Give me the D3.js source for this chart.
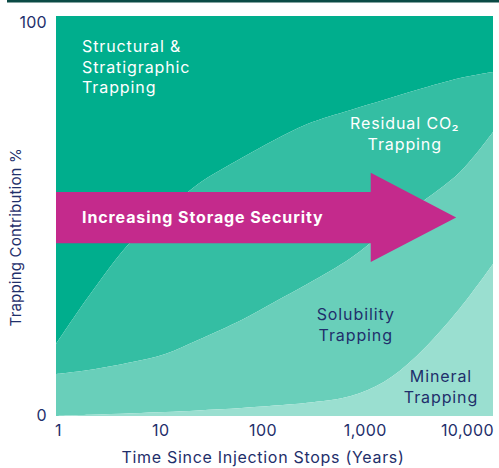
<!DOCTYPE html>
<html>
<head>
<meta charset="utf-8">
<script src="https://cdn.jsdelivr.net/npm/d3@7"></script>
<style>
  body { margin: 0; background: #fff; }
  text { font-family: Inter, "Open Sans", sans-serif; }
</style>
</head>
<body>
<svg></svg>
<script>
// years after injection stops and share of each trapping mechanism (%)
const years      = [1, 2, 5, 10, 20, 50, 100, 200, 500, 1000, 2000, 5000, 10000];
const mineral    = [0, 0.3, 0.7, 1, 1.4, 2, 2.6, 3.3, 5, 8.5, 15, 27, 38];
const solubility = [10.5, 11.2, 12.8, 14.5, 17.6, 22, 25.9, 29.7, 34.5, 37.5, 37.5, 34, 33];
const residual   = [7.5, 18.5, 30.5, 35.5, 39, 40.5, 40.5, 40, 37, 33, 29, 23.5, 15];
const structural = [82, 70, 56, 49, 42, 35.5, 31, 27, 23.5, 21, 18.5, 15.5, 14];

const mechanisms = ["Mineral", "Solubility", "Residual", "Structural"];
const xTicks = [1, 10, 100, 1000, 10000];
const yTicks = [0, 100];

let w = 499, h = 468;
const margin = {top: 16, right: 6, bottom: 52, left: 56};
const navy = "#1f2f6b";
const font = "Inter, 'Open Sans', sans-serif";

var svg = d3.select("svg").attr("width", w).attr("height", h);

// thin dark band along the top
svg.append("rect").attr("x", 7).attr("y", 0).attr("width", w - 7).attr("height", 2.5)
    .attr("fill", "#0b4a45");

var x = d3.scaleLog().domain([1, 10000]).range([margin.left, w - margin.right]);
var y = d3.scaleLinear().domain([0, 100]).range([h - margin.bottom, margin.top]);

var color = d3.scaleOrdinal().domain(mechanisms)
    .range(["#9adfd0", "#69cfba", "#34bea3", "#00ae8d"]);

var rows = years.map((yr, i) => ({
    year: yr,
    Mineral: mineral[i],
    Solubility: solubility[i],
    Residual: residual[i],
    Structural: structural[i]
}));

var series = d3.stack().keys(mechanisms)(rows);

var area = d3.area()
    .x(d => x(d.data.year))
    .y0(d => y(d[0]))
    .y1(d => y(d[1]))
    .curve(d3.curveCatmullRom.alpha(0.5));

// layers, top one first so the rest paint over it
svg.append("g")
    .selectAll("path")
    .data(series.slice().reverse())
    .enter()
    .append("path")
    .attr("d", area)
    .attr("fill", d => color(d.key));

// arrow "Increasing Storage Security" (in data space)
const arrow = {x0: 1, xBase: 760, xTip: 4600, bodyTop: 56, bodyBot: 43.2, headTop: 60.8, headBot: 38.5};
var arrowPts = [
    [x(arrow.x0), y(arrow.bodyTop)],
    [x(arrow.xBase), y(arrow.bodyTop)],
    [x(arrow.xBase), y(arrow.headTop)],
    [x(arrow.xTip), y((arrow.bodyTop + arrow.bodyBot) / 2)],
    [x(arrow.xBase), y(arrow.headBot)],
    [x(arrow.xBase), y(arrow.bodyBot)],
    [x(arrow.x0), y(arrow.bodyBot)]
];
svg.append("path")
    .attr("d", d3.line()(arrowPts) + "Z")
    .attr("fill", "#c42a8c");

svg.append("text")
    .attr("x", x(1) + 26)
    .attr("y", y((arrow.bodyTop + arrow.bodyBot) / 2))
    .attr("dy", "0.35em")
    .attr("fill", "#fff")
    .attr("font-size", 16)
    .attr("letter-spacing", 0.9)
    .attr("font-weight", "bold")
    .text("Increasing Storage Security");

// region labels
const labels = [
    {lines: ["Structural &", "Stratigraphic", "Trapping"], xv: 1, px: 26, yv: 92.3, anchor: "start", fill: "#fff", lh: 20.2},
    {lines: ["Residual CO\u2082", "Trapping"], xv: 1000, px: 21, yv: 73.2, anchor: "middle", fill: "#fff", lh: 21},
    {lines: ["Solubility", "Trapping"], xv: 1000, px: -28, yv: 25.5, anchor: "middle", fill: navy, lh: 21},
    {lines: ["Mineral", "Trapping"], xv: 10000, px: -52, yv: 9.8, anchor: "middle", fill: navy, lh: 20.2}
];

labels.forEach(l => {
    var t = svg.append("text")
        .attr("text-anchor", l.anchor)
        .attr("fill", l.fill)
        .attr("font-size", 16)
        .attr("letter-spacing", 0.9);
    l.lines.forEach((s, i) => {
        t.append("tspan")
            .attr("x", x(l.xv) + l.px)
            .attr("y", y(l.yv) + i * l.lh)
            .attr("dy", "0.35em")
            .text(s);
    });
});

// axes
var tickX = d3.scaleLog().domain([1, 10000]).range([x(1) + 2, x(10000) - 26]);
var xAxis = svg.append("g")
    .attr("transform", `translate(0,${h - margin.bottom + 14})`)
    .call(d3.axisBottom(tickX).tickValues(xTicks).tickFormat(d3.format(",")).tickSize(0).tickPadding(0));
xAxis.select(".domain").remove();
xAxis.selectAll("text")
    .attr("font-size", 16)
    .attr("letter-spacing", 0.4)
    .attr("fill", navy)
    .attr("font-family", font)
    .attr("dy", "0.35em");

var yAxis = svg.append("g")
    .attr("transform", `translate(${margin.left - 9},0)`)
    .call(d3.axisLeft(y).tickValues(yTicks).tickSize(0).tickPadding(0));
yAxis.select(".domain").remove();
yAxis.selectAll("text")
    .attr("font-size", 16)
    .attr("letter-spacing", 0.3)
    .attr("fill", navy)
    .attr("font-family", font)
    .attr("dy", d => d === 100 ? "0.7em" : "0.3em");

svg.append("text")
    .attr("x", 263)
    .attr("y", h - 5)
    .attr("text-anchor", "middle")
    .attr("fill", navy)
    .attr("font-size", 16)
    .attr("letter-spacing", 0.7)
    .text("Time Since Injection Stops (Years)");

svg.append("text")
    .attr("transform", `translate(16,${y(44.7)}) rotate(-90)`)
    .attr("text-anchor", "middle")
    .attr("dy", "0.35em")
    .attr("fill", navy)
    .attr("font-size", 15)
    .attr("letter-spacing", 0.2)
    .text("Trapping Contribution %");
</script>
</body>
</html>
